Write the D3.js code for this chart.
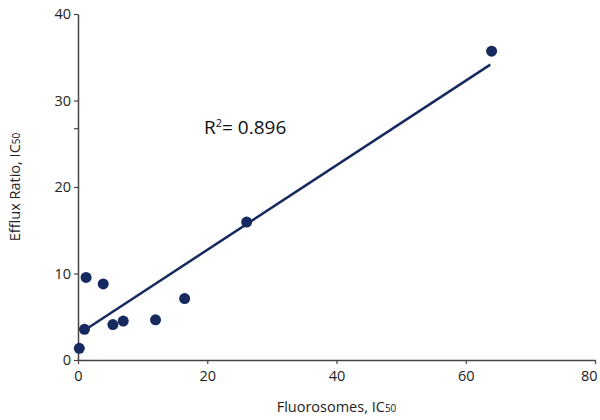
<!DOCTYPE html>
<html>
<head>
<meta charset="utf-8">
<script src="https://cdn.jsdelivr.net/npm/d3@7"></script>
<style>
  body { margin: 0; background: #fff; }
  text { font-family: "Open Sans", sans-serif; }
</style>
</head>
<body>
<svg id="chart"></svg>
<script>
// data
const fluorosomes = [0.2, 1.0, 1.25, 3.9, 5.4, 7.0, 12.0, 16.5, 26.1, 64.0];
const effluxRatio = [1.35, 3.55, 9.55, 8.8, 4.1, 4.5, 4.65, 7.1, 15.95, 35.7];
const xTicks = [0, 20, 40, 60, 80];
const yTicks = [0, 10, 20, 30, 40];
const yMinorTicks = [26.8];
const fitX = [1.3, 63.8];
const fitSlope = 0.489;
const fitIntercept = 2.95;
const rSquared = "0.896";

const width = 600, height = 420;
const margin = {top: 14, right: 5, bottom: 60, left: 78};
const innerW = width - margin.left - margin.right,
      innerH = height - margin.top - margin.bottom;

const navy = "#172a5f";
const axisColor = "#444";

const svg = d3.select("#chart")
    .attr("width", width)
    .attr("height", height);

const g = svg.append("g")
    .attr("transform", `translate(${margin.left},${margin.top})`);

const x = d3.scaleLinear().domain([0, 80]).range([0, innerW]);
const y = d3.scaleLinear().domain([0, 40]).range([innerH, 0]);

// x axis
const xAxis = g.append("g")
    .attr("transform", `translate(0,${innerH})`)
    .call(d3.axisBottom(x).tickValues(xTicks).tickSize(4).tickSizeOuter(0).tickPadding(7));

// last label sits inside the frame, as in the original
xAxis.selectAll(".tick text")
    .filter(d => d === xTicks[xTicks.length - 1])
    .attr("text-anchor", "end")
    .attr("dx", 2);

// y axis
const yAxis = g.append("g")
    .call(d3.axisLeft(y).tickValues(yTicks).tickSize(4).tickSizeOuter(0).tickPadding(3));

g.append("g")
    .call(d3.axisLeft(y).tickValues(yMinorTicks).tickSize(4).tickSizeOuter(0).tickFormat(""))
    .select(".domain").remove();

[xAxis, yAxis].forEach(a => {
    a.select(".domain").attr("stroke", axisColor).attr("stroke-width", 1.5);
    a.selectAll(".tick text")
        .attr("fill", "#222")
        .style("font-size", "14.5px")
        .style("font-family", "'Open Sans', sans-serif");
});
g.selectAll(".tick line").attr("stroke", axisColor).attr("stroke-width", 1.2);

// fit line
g.append("line")
    .attr("x1", x(fitX[0]))
    .attr("y1", y(fitSlope * fitX[0] + fitIntercept))
    .attr("x2", x(fitX[1]))
    .attr("y2", y(fitSlope * fitX[1] + fitIntercept))
    .attr("stroke", navy)
    .attr("stroke-width", 2.5);

// points
g.selectAll("circle")
    .data(fluorosomes.map((v, i) => ({x: v, y: effluxRatio[i]})))
    .enter()
    .append("circle")
    .attr("cx", d => x(d.x))
    .attr("cy", d => y(d.y))
    .attr("r", 5.5)
    .attr("fill", navy);

// R squared label
const r2 = svg.append("text")
    .attr("x", 204)
    .attr("y", 134)
    .attr("fill", "#111")
    .style("font-size", "19px");
r2.append("tspan").text("R");
r2.append("tspan").attr("dy", -7).style("font-size", "11px").text("2");
r2.append("tspan").attr("dy", 7).text("= " + rSquared);

// axis titles
const xTitle = svg.append("text")
    .attr("x", margin.left + x(40))
    .attr("y", 412)
    .attr("text-anchor", "middle")
    .attr("fill", "#222")
    .style("font-size", "14.5px");
xTitle.append("tspan").text("Fluorosomes, IC");
xTitle.append("tspan").style("font-size", "10px").text("50");

const yTitle = svg.append("text")
    .attr("transform", `translate(20,${margin.top + y(20)}) rotate(-90)`)
    .attr("text-anchor", "middle")
    .attr("fill", "#222")
    .style("font-size", "14.5px");
yTitle.append("tspan").text("Efflux Ratio, IC");
yTitle.append("tspan").style("font-size", "10px").text("50");
</script>
</body>
</html>
